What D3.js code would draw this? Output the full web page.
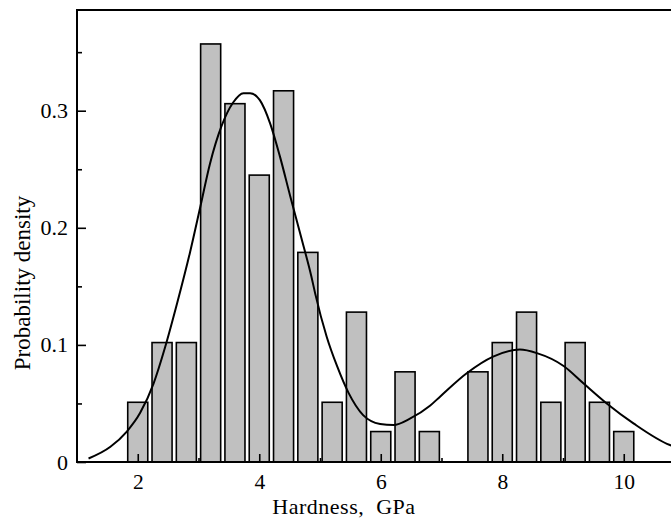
<!DOCTYPE html>
<html>
<head>
<meta charset="utf-8">
<script src="https://cdn.jsdelivr.net/npm/d3@7"></script>
<style>
  body { margin: 0; background: #fff; }
  svg { display: block; }
</style>
</head>
<body>
<div id="mainDiv"></div>
<script>
'use strict';

// histogram bins (centre of bin, GPa) and their probability density
var binCenters = [2.0, 2.4, 2.8, 3.2, 3.6, 4.0, 4.4, 4.8, 5.2, 5.6, 6.0, 6.4, 6.8, 7.2, 7.6, 8.0, 8.4, 8.8, 9.2, 9.6, 10.0];
var binDensity = [0.051, 0.102, 0.102, 0.357, 0.306, 0.245, 0.317, 0.179, 0.051, 0.128, 0.026, 0.077, 0.026, 0, 0.077, 0.102, 0.128, 0.051, 0.102, 0.051, 0.026];

// fitted density curve
var curveX = [1.19, 1.55, 1.82, 2.04, 2.26, 2.45, 2.65, 2.86, 3.03, 3.19, 3.38, 3.57, 3.74, 3.85, 4.01, 4.18, 4.34, 4.51, 4.70, 4.86, 4.92, 5.11, 5.28, 5.47, 5.71, 5.99, 6.21, 6.48, 6.81, 6.98, 7.42, 7.85, 8.29, 8.57, 9.01, 9.34, 9.72, 10.16, 10.76, 10.9];
var curveY = [0.003, 0.013, 0.026, 0.042, 0.067, 0.098, 0.136, 0.179, 0.218, 0.255, 0.287, 0.307, 0.315, 0.315, 0.309, 0.289, 0.261, 0.227, 0.190, 0.158, 0.144, 0.107, 0.082, 0.059, 0.040, 0.0325, 0.0316, 0.037, 0.048, 0.056, 0.076, 0.090, 0.096, 0.093, 0.082, 0.067, 0.050, 0.033, 0.0145, 0.012];

var xMajorTicks = [2, 4, 6, 8, 10];
var xMinorTicks = [3, 5, 7, 9];
var yMajorTicks = [0, 0.1, 0.2, 0.3];
var yMinorTicks = [0.05, 0.15, 0.25, 0.35];

var myApp = {};

myApp.font = '"Liberation Serif", "Times New Roman", serif';

myApp.run = function ()
{
    var W = 671, H = 519;
    var left = 77, top = 10, bottom = 462;

    var svg = d3.select("#mainDiv").append("svg")
        .attr("width", W)
        .attr("height", H);

    var x = d3.scaleLinear().domain([1, 11]).range([left, left + 10 * 60.75]);
    var y = d3.scaleLinear().domain([0, 0.386]).range([bottom, top]);

    var barW = x(0.33) - x(0);

    var bins = [];
    for (var i = 0; i < binCenters.length; i++)
    {
        if (binDensity[i] > 0) bins.push([binCenters[i], binDensity[i]]);
    }

    svg.append("g").selectAll("rect")
        .data(bins)
        .enter()
        .append("rect")
            .attr("x", function(d) { return x(d[0]) - barW / 2; })
            .attr("y", function(d) { return y(d[1]); })
            .attr("width", barW)
            .attr("height", function(d) { return y(0) - y(d[1]); })
            .attr("fill", "#c0c0c0")
            .attr("stroke", "#000")
            .attr("stroke-width", 1.6);

    // axes with inward ticks
    var xAxis = svg.append("g").attr("transform", "translate(0," + bottom + ")")
        .call(d3.axisBottom(x).tickValues(xMajorTicks).tickSize(-8).tickFormat(d3.format("d")));
    svg.append("g").attr("transform", "translate(0," + bottom + ")")
        .call(d3.axisBottom(x).tickValues(xMinorTicks).tickSize(-4).tickFormat(""))
        .select(".domain").remove();

    var yAxis = svg.append("g").attr("transform", "translate(" + left + ",0)")
        .call(d3.axisLeft(y).tickValues(yMajorTicks).tickSize(-9)
            .tickFormat(function(d) { return d === 0 ? "0" : d3.format(".1f")(d); }));
    svg.append("g").attr("transform", "translate(" + left + ",0)")
        .call(d3.axisLeft(y).tickValues(yMinorTicks).tickSize(-5).tickFormat(""))
        .select(".domain").remove();

    svg.selectAll(".domain").remove();
    svg.selectAll(".tick line").attr("stroke", "#000").attr("stroke-width", 1.6);

    xAxis.selectAll("text")
        .attr("y", 12)
        .attr("dy", "0.71em")
        .attr("font-family", myApp.font)
        .attr("font-size", "21.5px")
        .attr("fill", "#000");

    yAxis.selectAll("text")
        .attr("x", -9)
        .attr("font-family", myApp.font)
        .attr("font-size", "22px")
        .attr("fill", "#000");

    // fitted curve
    var pts = curveX.map(function(v, k) { return [v, curveY[k]]; });
    svg.append("path")
        .datum(pts)
        .attr("fill", "none")
        .attr("stroke", "#000")
        .attr("stroke-width", 2)
        .attr("d", d3.line()
            .x(function(d) { return x(d[0]); })
            .y(function(d) { return y(d[1]); })
            .curve(d3.curveMonotoneX));

    // frame (right side runs past the edge of the picture)
    svg.append("rect")
        .attr("x", left)
        .attr("y", top)
        .attr("width", x(11) - left)
        .attr("height", bottom - top)
        .attr("fill", "none")
        .attr("stroke", "#000")
        .attr("stroke-width", 2);

    svg.append("text")
        .attr("x", 344)
        .attr("y", 514)
        .attr("text-anchor", "middle")
        .attr("font-family", myApp.font)
        .attr("font-size", "22px")
        .attr("letter-spacing", "0.5px")
        .style("white-space", "pre")
        .text("Hardness,  GPa");

    svg.append("text")
        .attr("transform", "translate(30,283) rotate(-90)")
        .attr("text-anchor", "middle")
        .attr("font-family", myApp.font)
        .attr("font-size", "23px")
        .text("Probability density");
}

window.onload = myApp.run;
</script>
</body>
</html>
